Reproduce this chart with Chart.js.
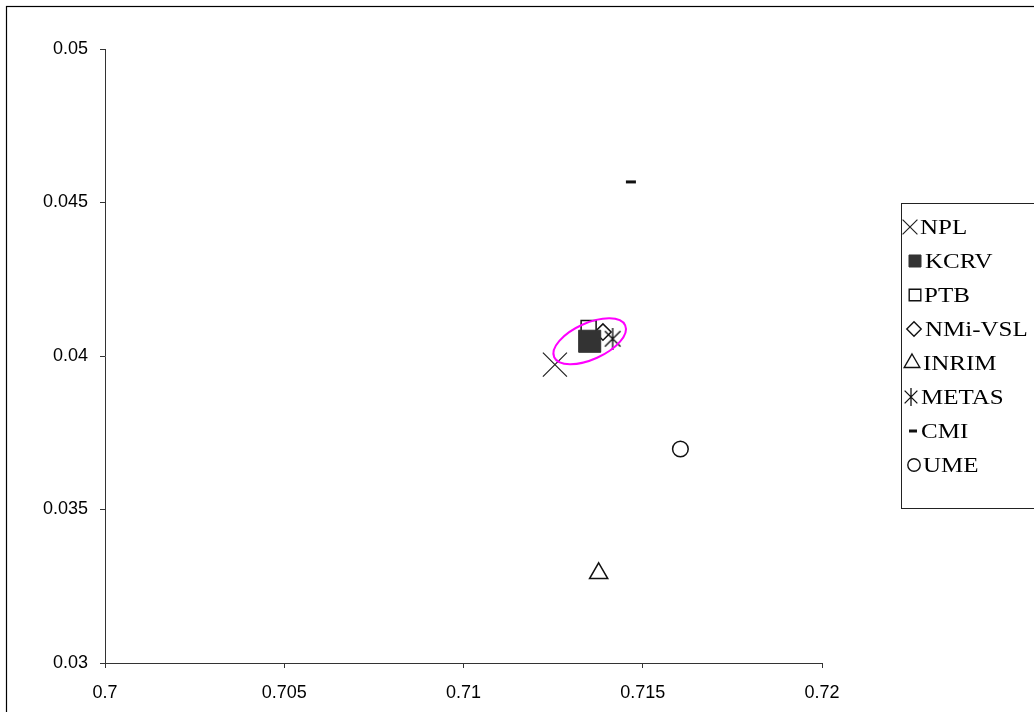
<!DOCTYPE html>
<html>
<head>
<meta charset="utf-8">
<title>Scatter</title>
<style>
  html, body { margin: 0; padding: 0; background: #fff; overflow: hidden; }
  #wrap { position: relative; width: 1034px; height: 712px; }
</style>
<script src="https://cdn.jsdelivr.net/npm/chart.js@4/dist/chart.umd.min.js"></script>
</head>
<body>
<div id="wrap"><canvas id="c" width="1034" height="712"></canvas></div>
<script>
// Laboratory results
const labs  = ['NPL', 'KCRV', 'PTB', 'NMi-VSL', 'INRIM', 'METAS', 'CMI', 'UME'];
const xVals = [0.71255, 0.71352, 0.71349, 0.71389, 0.71377, 0.71416, 0.71467, 0.71605];
const yVals = [0.03972, 0.04048, 0.04091, 0.04078, 0.03292, 0.04056, 0.04567, 0.03697];

// Axis tick labels
const xTicks = ['0.7', '0.705', '0.71', '0.715', '0.72'];
const yTicks = ['0.03', '0.035', '0.04', '0.045', '0.05'];

// Uncertainty ellipse around the KCRV: centre, end of major semi-axis, end of minor semi-axis
const ellipseX = [0.71352, 0.71451, 0.71374];
const ellipseY = [0.04048, 0.04100, 0.03995];

// Six-armed asterisk marker (x with a vertical bar)
function asterisk(size, arm, lw) {
  const c = document.createElement('canvas');
  c.width = c.height = size;
  const g = c.getContext('2d');
  const h = size / 2, d = arm * Math.SQRT1_2;
  g.strokeStyle = '#111';
  g.lineWidth = lw;
  g.beginPath();
  g.moveTo(h - d, h - d); g.lineTo(h + d, h + d);
  g.moveTo(h + d, h - d); g.lineTo(h - d, h + d);
  g.moveTo(h, h - arm); g.lineTo(h, h + arm);
  g.stroke();
  return c;
}
const starBig = asterisk(22, 11, 1.4);
const starSmall = asterisk(18, 9, 1.3);

// Marker styles: plot marker, legend marker and legend placement
const styles = [
  { ps: 'crossRot', r: 17,   bw: 1.2, bc: '#222', bg: 'rgba(0,0,0,0)', lr: 10.5, lbw: 1.2, mx: 910, tx: 920 },
  { ps: 'rect',     r: 15.6, bw: 1,   bc: '#333', bg: '#333',          lr: 8.5,  lbw: 1,   mx: 915, tx: 925 },
  { ps: 'rect',     r: 10.6, bw: 1.5, bc: '#111', bg: 'rgba(0,0,0,0)', lr: 8.2,  lbw: 1.4, mx: 915, tx: 924 },
  { ps: 'rectRot',  r: 8.2,  bw: 1.5, bc: '#111', bg: 'rgba(0,0,0,0)', lr: 7.2,  lbw: 1.4, mx: 914, tx: 925 },
  { ps: 'triangle', r: 10.5, bw: 1.5, bc: '#111', bg: 'rgba(0,0,0,0)', lr: 9,    lbw: 1.4, mx: 912, tx: 923 },
  { ps: starBig,    r: 11,   bw: 0,   bc: '#111', bg: '#111',          lps: starSmall,     mx: 911, tx: 921 },
  { ps: 'line',     r: 5,    bw: 3,   bc: '#111', bg: '#111',          lr: 4,    lbw: 3,   mx: 913, tx: 921 },
  { ps: 'circle',   r: 7.8,  bw: 1.5, bc: '#111', bg: 'rgba(0,0,0,0)', lr: 6.2,  lbw: 1.4, mx: 914, tx: 923 }
];

const datasets = labs.map((name, i) => ({
  label: name,
  data: [{ x: xVals[i], y: yVals[i] }],
  pointStyle: styles[i].ps,
  pointRadius: styles[i].r,
  pointBorderWidth: styles[i].bw,
  pointBorderColor: styles[i].bc,
  pointBackgroundColor: styles[i].bg,
  showLine: false
}));

const decor = {
  id: 'decor',
  beforeDraw(chart) {
    const ctx = chart.ctx;
    ctx.save();
    ctx.fillStyle = '#fff';
    ctx.fillRect(0, 0, chart.width, chart.height);
    ctx.restore();
  },
  afterDatasetsDraw(chart) {
    const ctx = chart.ctx, sx = chart.scales.x, sy = chart.scales.y;
    const cx = sx.getPixelForValue(ellipseX[0]), cy = sy.getPixelForValue(ellipseY[0]);
    const mx = sx.getPixelForValue(ellipseX[1]), my = sy.getPixelForValue(ellipseY[1]);
    const nx = sx.getPixelForValue(ellipseX[2]), ny = sy.getPixelForValue(ellipseY[2]);
    const a = Math.hypot(mx - cx, my - cy);
    const b = Math.hypot(nx - cx, ny - cy);
    const rot = Math.atan2(my - cy, mx - cx);
    ctx.save();
    ctx.strokeStyle = '#ff00ff';
    ctx.lineWidth = 2;
    ctx.beginPath();
    ctx.ellipse(cx, cy, a, b, rot, 0, Math.PI * 2);
    ctx.stroke();
    ctx.restore();
  },
  afterDraw(chart) {
    const ctx = chart.ctx;
    ctx.save();
    // outer frame
    ctx.strokeStyle = '#000';
    ctx.lineWidth = 1.2;
    ctx.strokeRect(6.5, 6.5, 1100, 1000);

    // legend box
    const lx = 901.5, ly = 203.5, lh = 305;
    ctx.lineWidth = 1;
    ctx.strokeStyle = '#222';
    ctx.fillStyle = '#fff';
    ctx.fillRect(lx, ly, 200, lh);
    ctx.strokeRect(lx, ly, 200, lh);

    const row0 = 227, step = 34;
    chart.data.datasets.forEach((ds, i) => {
      const y = row0 + i * step, s = styles[i];
      if (s.lps) {
        ctx.drawImage(s.lps, s.mx - s.lps.width / 2, y - s.lps.height / 2);
      } else {
        ctx.fillStyle = s.bg;
        ctx.strokeStyle = s.bc;
        ctx.lineWidth = s.lbw;
        Chart.helpers.drawPoint(ctx, { pointStyle: s.ps, radius: s.lr, borderWidth: s.lbw, rotation: 0 }, s.mx, y);
      }
      ctx.save();
      ctx.translate(s.tx, y);
      ctx.scale(1.19, 1);
      ctx.fillStyle = '#000';
      ctx.font = '21px "Liberation Serif", "Times New Roman", serif';
      ctx.textBaseline = 'middle';
      ctx.textAlign = 'left';
      ctx.fillText(ds.label, 0, 1);
      ctx.restore();
    });
    ctx.restore();
  }
};

new Chart(document.getElementById('c'), {
  type: 'scatter',
  data: { datasets },
  options: {
    responsive: false,
    animation: false,
    events: [],
    devicePixelRatio: 1,
    layout: { padding: { left: 0, top: 49, right: 212, bottom: 0 } },
    plugins: { legend: { display: false }, tooltip: { enabled: false } },
    scales: {
      x: {
        type: 'linear',
        min: 0.7, max: 0.72,
        afterBuildTicks(axis) {
          axis.ticks = xTicks.map(t => ({ value: parseFloat(t) }));
        },
        afterFit(axis) { axis.height = 49; },
        grid: { display: true, drawOnChartArea: false, drawTicks: true, tickLength: 5, color: '#333', lineWidth: 1 },
        border: { display: true, color: '#333', width: 1 },
        ticks: {
          color: '#000',
          padding: 14,
          maxRotation: 0,
          font: { family: '"Liberation Sans", Arial, sans-serif', size: 18 },
          callback: (v, i) => xTicks[i]
        }
      },
      y: {
        type: 'linear',
        min: 0.03, max: 0.05,
        afterBuildTicks(axis) {
          axis.ticks = yTicks.map(t => ({ value: parseFloat(t) }));
        },
        afterFit(axis) { axis.width = 105; },
        grid: { display: true, drawOnChartArea: false, drawTicks: true, tickLength: 5, color: '#333', lineWidth: 1 },
        border: { display: true, color: '#333', width: 1 },
        ticks: {
          color: '#000',
          padding: 12,
          font: { family: '"Liberation Sans", Arial, sans-serif', size: 18 },
          callback: (v, i) => yTicks[i]
        }
      }
    }
  },
  plugins: [decor]
});
</script>
</body>
</html>
